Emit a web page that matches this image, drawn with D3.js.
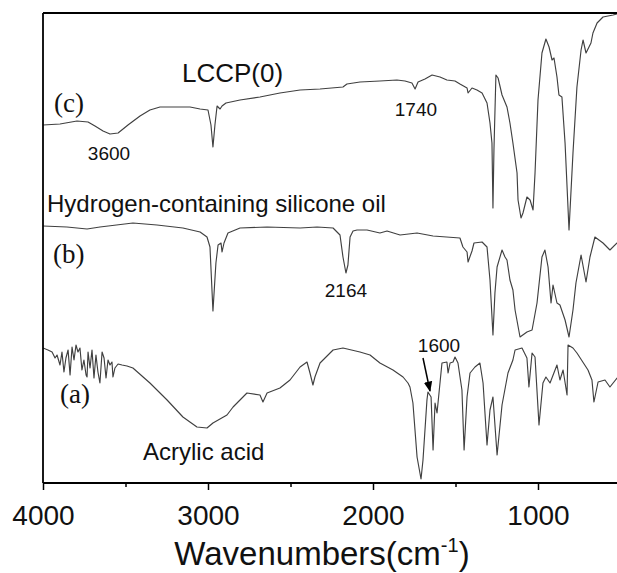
<!DOCTYPE html>
<html>
<head>
<meta charset="utf-8">
<script src="https://cdn.jsdelivr.net/npm/d3@7/dist/d3.min.js"></script>
<style>
  html, body { margin: 0; padding: 0; background: #fff; }
  svg { display: block; }
</style>
</head>
<body>
<script>
// ---- Data (wavenumber cm^-1, transmittance in arbitrary offset units) ----
const traceC = [
  [4000,358],[3897,359],[3794,362],[3727,361],[3685,357],[3636,352],[3594,349],[3545,350],
  [3485,358],[3412,367],[3352,373],[3291,376],[3200,376],[3109,376],[3048,374],[3000,373],
  [2982,358],[2970,336],[2958,358],[2945,377],[2933,375],[2927,374],[2915,377],[2891,380],
  [2806,383],[2685,386],[2564,390],[2442,393],[2321,394],[2182,396],[2158,399],[2079,401],
  [1958,402],[1855,403],[1806,402],[1764,400],[1745,394],[1727,401],[1685,404],[1642,408],
  [1594,406],[1552,403],[1503,402],[1473,399],[1430,395],[1424,390],[1400,395],[1370,393],
  [1339,390],[1309,380],[1291,360],[1279,340],[1273,275],[1267,333],[1255,408],[1242,405],
  [1218,388],[1188,376],[1170,360],[1152,340],[1127,310],[1121,283],[1103,265],[1091,270],
  [1067,286],[1048,283],[1030,273],[1018,310],[1000,383],[976,430],[952,444],[933,436],
  [915,423],[903,425],[885,406],[873,388],[855,386],[836,340],[812,253],[788,330],[764,396],
  [739,433],[727,443],[709,430],[679,440],[667,450],[642,460],[606,466],[545,468],[521,469],[500,469]
];
const traceB = [
  [4000,257],[3855,256],[3733,254],[3655,256],[3455,260],[3309,258],[3152,255],[3048,251],
  [3006,246],[2988,236],[2970,172],[2952,220],[2939,238],[2921,240],[2915,231],[2903,240],
  [2879,250],[2806,255],[2642,256],[2442,255],[2339,256],[2242,255],[2212,250],[2200,248],
  [2182,226],[2164,210],[2152,218],[2139,246],[2121,252],[2097,253],[2036,253],[1958,250],
  [1915,252],[1836,248],[1733,250],[1636,247],[1473,245],[1455,236],[1430,231],[1424,221],
  [1400,232],[1388,240],[1339,241],[1309,236],[1291,203],[1273,148],[1261,190],[1248,216],
  [1218,233],[1200,226],[1188,223],[1170,203],[1152,193],[1139,173],[1109,146],[1067,151],
  [1036,153],[1006,180],[976,226],[958,233],[939,216],[921,180],[909,198],[885,180],
  [867,178],[836,163],[812,146],[788,173],[770,200],[739,228],[709,201],[685,226],
  [655,246],[606,240],[564,233],[521,240],[500,238]
];
const traceA = [
  [4000,135],[3970,133],[3945,131],[3927,125],[3915,128],[3897,118],[3885,131],[3873,111],
  [3861,125],[3848,133],[3836,108],[3824,136],[3812,123],[3800,138],[3788,131],[3776,135],
  [3764,113],[3752,123],[3739,108],[3733,106],[3727,131],[3715,115],[3703,133],[3691,105],
  [3679,128],[3667,111],[3655,100],[3642,131],[3630,125],[3618,105],[3606,123],[3594,118],
  [3582,121],[3576,106],[3564,115],[3545,119],[3521,118],[3491,117],[3455,115],[3352,100],
  [3248,83],[3152,66],[3067,56],[3006,55],[2970,60],[2885,68],[2848,76],[2764,90],
  [2685,88],[2667,81],[2642,90],[2564,95],[2503,103],[2442,116],[2400,121],[2382,110],
  [2364,98],[2352,106],[2321,120],[2242,133],[2182,135],[2079,131],[2018,128],[1958,120],
  [1879,113],[1818,106],[1788,100],[1776,96],[1758,80],[1733,26],[1709,4],[1697,23],
  [1673,83],[1667,91],[1648,86],[1636,33],[1624,80],[1612,70],[1582,120],[1552,121],
  [1545,110],[1533,120],[1515,121],[1503,126],[1485,120],[1461,93],[1448,33],[1430,86],
  [1412,110],[1382,116],[1352,120],[1333,100],[1309,38],[1291,73],[1273,86],[1248,28],
  [1218,78],[1182,110],[1152,123],[1139,133],[1097,135],[1067,125],[1055,96],[1036,130],
  [1018,126],[994,58],[970,100],[952,106],[927,100],[885,118],[867,103],[848,113],
  [824,88],[818,138],[788,135],[764,130],[697,113],[673,103],[661,81],[636,101],
  [594,103],[564,96],[521,105],[500,104]
];
const majorTicks = [4000, 3000, 2000, 1000];
const minorTicks = [3500, 2500, 1500];
const traceLabels = ["(c)", "(b)", "(a)"];
const sampleNames = ["LCCP(0)", "Hydrogen-containing silicone oil", "Acrylic acid"];
const peakLabels = [
  {wn: 3600, text: "3600"},
  {wn: 1740, text: "1740"},
  {wn: 2164, text: "2164"},
  {wn: 1600, text: "1600"}
];

// ---- Layout ----
const W = 617, H = 573;
const mLeft = 43, mTop = 13, mBottom = 483;
const svg = d3.select("body").append("svg").attr("width", W).attr("height", H);

const x = d3.scaleLinear().domain([4000, 500]).range([mLeft, mLeft + 3500 * 0.165]);
const y = d3.scaleLinear().domain([0, 470]).range([mBottom, mTop]);

const sans = "'Liberation Sans', Arial, sans-serif";
const serif = "'Liberation Serif', 'Times New Roman', serif";

const defs = svg.append("defs");
defs.append("clipPath").attr("id", "clip")
  .append("rect").attr("x", mLeft).attr("y", mTop).attr("width", W - mLeft).attr("height", mBottom - mTop);

const line = d3.line().x(d => x(d[0])).y(d => y(d[1]));
const g = svg.append("g").attr("clip-path", "url(#clip)");
[traceC, traceB, traceA].forEach(t => {
  g.append("path").datum(t).attr("d", line)
    .attr("fill", "none").attr("stroke", "#404040").attr("stroke-width", 1.15)
    .attr("stroke-linejoin", "round");
});

// axes
const xAxis = d3.axisBottom(x).tickValues(majorTicks).tickSize(7).tickSizeOuter(0)
  .tickFormat(d3.format("d"));
const ax = svg.append("g").attr("transform", `translate(0,${mBottom})`).call(xAxis);
ax.select(".domain").attr("stroke", "#000").attr("stroke-width", 1.8)
  .attr("d", `M${mLeft},0H${W}`);
ax.selectAll(".tick line").attr("stroke", "#000").attr("stroke-width", 1.5);
ax.selectAll(".tick text").attr("y", 42).attr("dy", 0)
  .attr("font-family", sans).attr("font-size", 28).attr("fill", "#111");
const axMinor = d3.axisBottom(x).tickValues(minorTicks).tickSize(4).tickSizeOuter(0).tickFormat("");
const am = svg.append("g").attr("transform", `translate(0,${mBottom})`).call(axMinor);
am.select(".domain").remove();
am.selectAll(".tick line").attr("stroke", "#000").attr("stroke-width", 1.5);

// left and top frame lines
svg.append("line").attr("x1", mLeft).attr("x2", mLeft).attr("y1", mTop).attr("y2", mBottom)
  .attr("stroke", "#000").attr("stroke-width", 1.8);
svg.append("line").attr("x1", mLeft).attr("x2", W).attr("y1", mTop).attr("y2", mTop)
  .attr("stroke", "#000").attr("stroke-width", 1.8);

// axis title
const title = svg.append("text").attr("x", 322).attr("y", 565)
  .attr("text-anchor", "middle").attr("font-family", sans).attr("font-size", 33).attr("fill", "#111");
title.append("tspan").text("Wavenumbers(cm");
title.append("tspan").attr("font-size", 20).attr("dy", -13).text("-1");
title.append("tspan").attr("dy", 13).text(")");

// trace labels
const tl = [[54, 112], [53, 263], [60, 403]];
traceLabels.forEach((t, i) => {
  svg.append("text").attr("x", tl[i][0]).attr("y", tl[i][1])
    .attr("font-family", serif).attr("font-size", 27).attr("fill", "#111").text(t);
});
// sample names
const sn = [[182, 82, 26], [47, 212, 24], [143, 460, 24]];
sampleNames.forEach((t, i) => {
  svg.append("text").attr("x", sn[i][0]).attr("y", sn[i][1])
    .attr("font-family", sans).attr("font-size", sn[i][2]).attr("fill", "#111").text(t);
});
// peak labels
const pY = [160, 116, 297, 352];
peakLabels.forEach((p, i) => {
  svg.append("text").attr("x", x(p.wn)).attr("y", pY[i]).attr("text-anchor", "middle")
    .attr("font-family", sans).attr("font-size", 19).attr("fill", "#111").text(p.text);
});
// arrow for 1600
defs.append("marker").attr("id", "ah").attr("viewBox", "0 0 10 10")
  .attr("refX", 9).attr("refY", 5).attr("markerWidth", 7).attr("markerHeight", 7)
  .attr("orient", "auto")
  .append("path").attr("d", "M0,1L10,5L0,9Z").attr("fill", "#000");
svg.append("line").attr("x1", 423).attr("y1", 358).attr("x2", 430).attr("y2", 391)
  .attr("stroke", "#000").attr("stroke-width", 1.5).attr("marker-end", "url(#ah)");
</script>
</body>
</html>
